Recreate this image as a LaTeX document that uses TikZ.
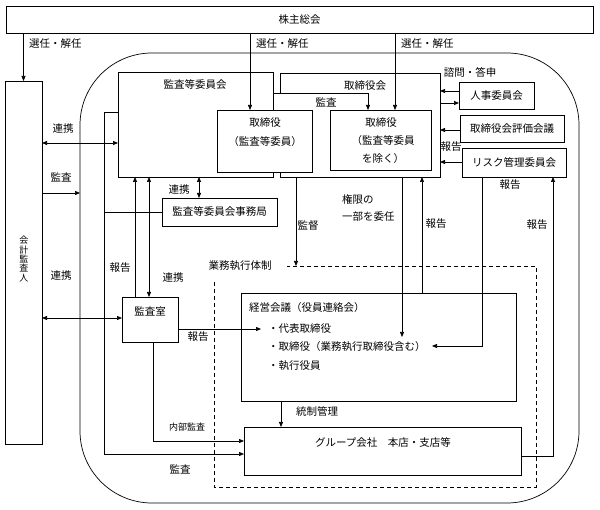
\documentclass[tikz,border=0pt]{standalone}
\usepackage{fontspec}
\newfontfamily\jp{Noto Sans CJK JP}
\usetikzlibrary{arrows.meta}
\newcommand\mybox[6]{\node[box, minimum width={(#4-#2)*1pt}, minimum height={(#5-#3)*1pt}] (#1) at ({(#2+#4)/2},{(#3+#5)/2}) {#6};}
\begin{document}
\begin{tikzpicture}[x=1pt,y=-1pt,
  every node/.style={font=\jp\fontsize{10.5}{12}\selectfont, inner sep=0pt, outer sep=0pt},
  box/.style={draw, line width=0.7pt, fill=white},
  ln/.style={line width=0.7pt},
  arr/.style={ln, -{Triangle[length=5pt,width=4pt]}},
  darr/.style={ln, {Triangle[length=5pt,width=4pt]}-{Triangle[length=5pt,width=4pt]}},
  small/.style={font=\jp\fontsize{9}{10}\selectfont}]
\useasboundingbox (0,0) rectangle (600,510);
% big rounded frame
\node[draw, ln, rounded corners=72pt, minimum width=499pt, minimum height=450pt] (company) at (329.5,278) {};
% dashed frame
\draw[ln, dash pattern=on 4pt off 3pt] (214,282) -- (214,487) -- (536,487) -- (536,266) -- (287,266);
\node (gyomu) at (240,266) {業務執行体制};
% boxes
\mybox{kabu}{6}{6}{593}{33}{株主総会}
\mybox{kaikei}{5}{81}{42}{444}{}
\node[align=center, font=\jp\fontsize{9}{9.4}\selectfont] (kaikeitxt) at (24,259) {会\\計\\監\\査\\人};
\mybox{kansaiin}{118}{72}{273}{177}{}
\node (kansaiintxt) at (195,85) {監査等委員会};
\node[minimum width=160pt, minimum height=104pt] (torikai) at (360,125) {};
\draw[ln] (torikai.west |- 0,93) -- (torikai.north west) -- (torikai.north east) -- (torikai.south east) -- (torikai.south west) -- (torikai.west |- 0,172);
\node (torikaitxt) at (365,86) {取締役会};
\mybox{tori1}{217}{110}{312}{172}{}
\node (tori1a) at (265,123) {取締役};
\node (tori1b) at (265,142) {（監査等委員）};
\mybox{tori2}{330}{110}{431}{170}{}
\node (tori2a) at (381,123) {取締役};
\node (tori2b) at (383,141) {（監査等委員};
\node (tori2c) at (383,159) {を除く）};
\mybox{jinji}{459}{82}{534}{109}{人事委員会}
\mybox{hyoka}{460}{115}{564}{142}{取締役会評価会議}
\mybox{risk}{462}{148}{566}{177}{リスク管理委員会}
\mybox{jimu}{162}{198}{277}{226}{監査等委員会事務局}
\mybox{kansashitsu}{122}{297}{178}{342}{}
\node (kstxt) at (150,311) {監査室};
\mybox{keiei}{241}{293}{516}{401}{}
\node[anchor=west] (keieitxt) at (249,308) {経営会議（役員連絡会）};
\node[anchor=west] (b1) at (268,329) {・代表取締役};
\node[anchor=west] (b2) at (268,347) {・取締役（業務執行取締役含む）};
\node[anchor=west] (b3) at (268,366) {・執行役員};
\mybox{group}{244}{427}{521}{475}{}
\node (grouptxt) at (383,442) {グループ会社\quad 本店・支店等};
% connectors from shareholders
\draw[arr] (kaikei.north |- kabu.south) -- (kaikei.north);
\draw[arr] (kabu.south -| 250,0) -- (tori1.north -| 250,0);
\draw[arr] (kabu.south -| 395,0) -- (tori2.north -| 395,0);
\node[anchor=west] (s1) at (29,44) {選任・解任};
\node[anchor=west] (s2) at (256,44) {選任・解任};
\node[anchor=west] (s3) at (401,44) {選任・解任};
% accounting auditor
\draw[darr] (kaikei.east |- 0,143) -- (kansaiin.west |- 0,143);
\node (r1) at (63,129) {連携};
\draw[arr] (kaikei.east |- 0,193) -- (company.west |- 0,193);
\node (r2) at (61,177) {監査};
\draw[darr] (kaikei.east |- 0,318) -- (kansashitsu.west |- 0,318);
\node (r3) at (61,276) {連携};
% audit committee audit to group
\draw[arr] (kansaiin.west |- 0,112) -- (104,112) -- (104,454) -- (group.west |- 0,454);
\node (r4) at (180,469) {監査};
\draw[ln] (jimu.west) -- (104,212);
% audit to directors
\draw[arr] (kansaiin.east |- 0,93) -- (368,93) -- (tori2.north -| 368,0);
\node (r5) at (326,102) {監査};
% committees
\draw[arr] (jinji.west |- 0,91) -- (torikai.east |- 0,91);
\draw[arr] (torikai.east |- 0,103) -- (jinji.west |- 0,103);
\draw[arr] (hyoka.west |- 0,130) -- (torikai.east |- 0,130);
\draw[arr] (risk.west |- 0,162) -- (torikai.east |- 0,162);
\node (r6) at (470,72) {諮問・答申};
\node (r7) at (451,147) {報告};
% board down
\draw[arr] (torikai.south -| 296,0) -- (296,266);
\node (r8) at (308,226) {監督};
\draw[arr] (torikai.south -| 402,0) -- (402,337);
\node[anchor=west] (r9) at (342,199) {権限の};
\node[anchor=west] (r10) at (342,217) {一部を委任};
\draw[arr] (keiei.north -| 422,0) -- (torikai.south -| 422,0);
\node (r11) at (436,224) {報告};
\draw[arr] (risk.south -| 482,0) -- (482,346) -- (432,346);
\node (r12) at (510,185) {報告};
\draw[arr] (group.east |- 0,456) -- (553,456) -- (risk.south -| 553,0);
\node (r13) at (537,225) {報告};
% audit office
\draw[arr] (kansashitsu.north -| 135,0) -- (kansaiin.south -| 135,0);
\node (r14) at (120,268) {報告};
\draw[darr] (kansaiin.south -| 149,0) -- (kansashitsu.north -| 149,0);
\node (r15) at (173,278) {連携};
\draw[darr] (kansaiin.south -| 199,0) -- (jimu.north -| 199,0);
\node (r16) at (179,190) {連携};
\draw[arr] (kansashitsu.east |- 0,329) -- (261,329);
\node (r17) at (198,337) {報告};
\draw[arr] (kansashitsu.south -| 153,0) -- (153,441) -- (group.west |- 0,441);
\node[small] (r18) at (187,427) {内部監査};
\draw[arr] (keiei.south -| 281,0) -- (group.north -| 281,0);
\node (r19) at (317,412) {統制管理};
\end{tikzpicture}
\end{document}
